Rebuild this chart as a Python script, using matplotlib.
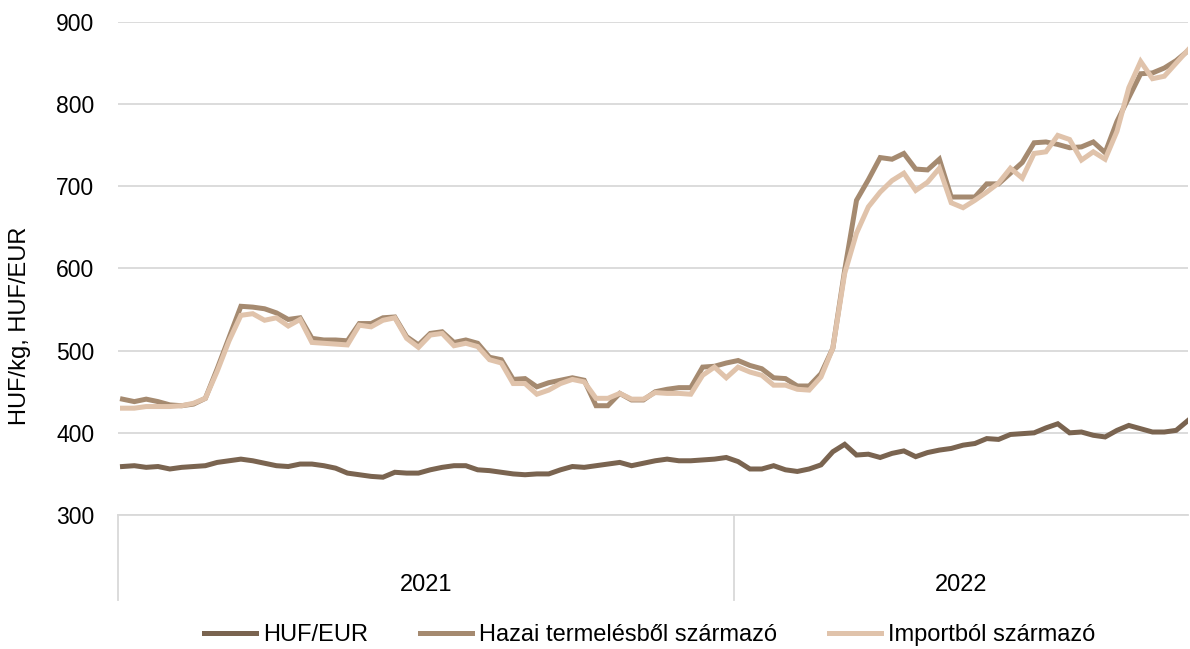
import matplotlib
matplotlib.use("Agg")
import matplotlib.pyplot as plt
import numpy as np

plt.rcParams['font.family'] = ['Liberation Sans', 'DejaVu Sans']

# weekly values, 2021 week 1 .. 2022 week 39
years = ['2021', '2022']
weeks_per_year = [52, 39]

huf_eur = [359, 360, 358, 359, 356, 358, 359, 360, 364, 366,
           368, 366, 363, 360, 359, 362, 362, 360, 357, 351,
           349, 347, 346, 352, 351, 351, 355, 358, 360, 360,
           355, 354, 352, 350, 349, 350, 350, 355, 359, 358,
           360, 362, 364, 360, 363, 366, 368, 366, 366, 367,
           368, 370,
           365, 356, 356, 360, 355, 353, 356, 361, 377, 386,
           373, 374, 370, 375, 378, 371, 376, 379, 381, 385,
           387, 393, 392, 398, 399, 400, 406, 411, 400, 401,
           397, 395, 403, 409, 405, 401, 401, 403, 415]

hazai = [441, 438, 441, 438, 434, 433, 435, 442, 478, 516,
         554, 553, 551, 546, 538, 540, 515, 513, 513, 512,
         533, 533, 540, 541, 517, 507, 521, 523, 510, 513,
         509, 492, 489, 465, 466, 456, 461, 464, 467, 464,
         433, 433, 448, 440, 440, 450, 453, 455, 455, 480,
         481, 485,
         488, 482, 478, 467, 466, 457, 457, 472, 503, 598,
         683, 708, 735, 733, 740, 721, 720, 733, 687, 687,
         687, 703, 703, 716, 729, 753, 754, 751, 747, 748,
         754, 741, 779, 808, 837, 838, 844, 853, 865]

import_ = [430, 430, 432, 432, 432, 433, 436, 442, 475, 512,
           543, 545, 537, 540, 530, 538, 510, 509, 508, 507,
           531, 529, 537, 540, 515, 504, 519, 521, 506, 509,
           505, 489, 485, 460, 460, 447, 452, 460, 465, 462,
           442, 442, 448, 441, 441, 449, 448, 448, 447, 470,
           480, 467,
           480, 474, 470, 458, 458, 453, 452, 468, 503, 594,
           643, 675, 693, 707, 716, 695, 705, 722, 680, 674,
           683, 693, 704, 722, 710, 740, 742, 762, 757, 732,
           742, 733, 767, 820, 852, 831, 834, 850, 866]

labels = ['HUF/EUR', 'Hazai termelésből származó', 'Importból származó']
colors = ['#7A6450', '#A58A70', '#E0C3AB']

x = np.arange(len(hazai))
fs = 17

fig = plt.figure(figsize=(11.9, 6.49), dpi=100)
ax = fig.add_axes([118 / 1190, (649 - 515) / 649, 1070 / 1190, 493 / 649])

for vals, lab, col in zip([huf_eur, hazai, import_], labels, colors):
    ax.plot(x, vals, color=col, lw=3.6, label=lab, solid_joinstyle='miter')

ax.set_ylim(300, 900)
ax.set_xlim(-0.38, len(hazai) - 1)
ax.set_yticks(np.arange(300, 901, 100))
ax.tick_params(axis='y', length=0, pad=17, labelsize=fs - 0.5, labelcolor='#000000')
ax.set_xticks([])
ax.grid(axis='y', color='#D9D9D9', lw=1.3)
ax.set_axisbelow(True)
for s in ['top', 'right', 'left']:
    ax.spines[s].set_visible(False)
ax.spines['bottom'].set_color('#D9D9D9')
ax.spines['bottom'].set_linewidth(1.3)

# year group separators and labels below the axis
trans = ax.get_xaxis_transform()
depth = -(600 - 515) / 493
edges = [-0.38]
for n in weeks_per_year:
    edges.append(edges[-1] + n)
edges[-1] = len(hazai) - 1
for e in edges[:-1]:
    ax.plot([e, e], [0, depth], transform=trans, color='#D9D9D9', lw=1.3, clip_on=False)
for i, yr in enumerate(years):
    ax.text((edges[i] + edges[i + 1]) / 2, -(585 - 515) / 493, yr, transform=trans,
            ha='center', va='center', fontsize=fs)

fig.text(20 / 1190, 1 - 326 / 649, 'HUF/kg, HUF/EUR', rotation=90,
         ha='center', va='center', fontsize=fs)

fig.legend(loc='center', bbox_to_anchor=(650 / 1190, 1 - 635 / 649), ncol=3,
           frameon=False, fontsize=fs, handlelength=2.2, handletextpad=0.3,
           columnspacing=2.2)

fig.savefig('out.png', dpi=100)
